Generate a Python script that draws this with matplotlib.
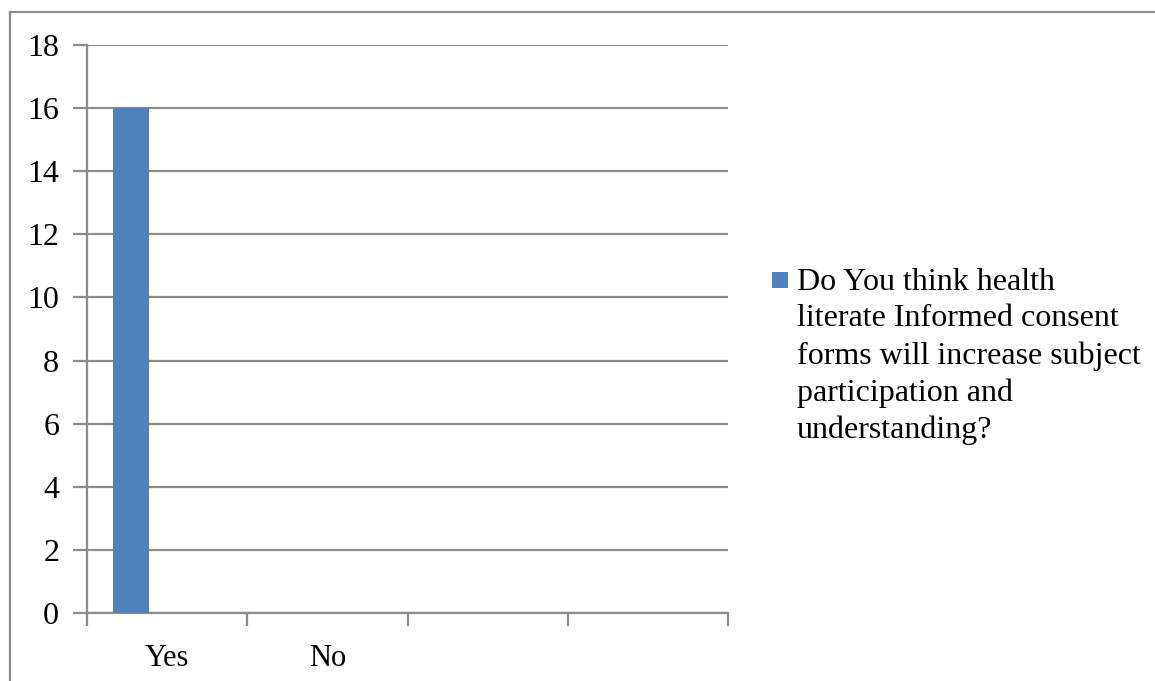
import matplotlib
matplotlib.use("Agg")
import matplotlib.pyplot as plt
from matplotlib.lines import Line2D
from matplotlib.patches import Rectangle
import numpy as np

# chart data
categories = ["Yes", "No", "", ""]
values = [16, 0, 0, 0]
yticks = [0, 2, 4, 6, 8, 10, 12, 14, 16, 18]
legend_label = ("Do You think health\nliterate Informed consent\n"
                "forms will increase subject\nparticipation and\nunderstanding?")

plt.rcParams['font.family'] = ['Liberation Serif', 'DejaVu Serif']

W, H = 1155, 681
bar_color = "#4F81BD"
grid_col = "#8c8c8c"

fig = plt.figure(figsize=(W / 100, H / 100), dpi=100)
ax = fig.add_axes([87 / W, (H - 613) / H, (728 - 87) / W, (613 - 45) / H])

x = np.arange(len(categories))
ax.bar(x - 0.225, values, width=0.225, color=bar_color, zorder=3)

ax.set_ylim(0, 18)
ax.set_yticks(yticks)
ax.set_yticklabels([str(v) for v in yticks], fontsize=23)
ax.yaxis.grid(True, color=grid_col, linewidth=1.6, zorder=0)
ax.tick_params(axis="y", length=10, width=1.6, color=grid_col, pad=10)

ax.set_xlim(-0.5, len(categories) - 0.5)
ax.set_xticks(x)
ax.set_xticklabels(categories, fontsize=22)
ax.set_xticks(np.arange(len(categories) + 1) - 0.5, minor=True)
ax.tick_params(axis="x", which="major", length=0, pad=22)
ax.tick_params(axis="x", which="minor", length=9, width=1.6, color=grid_col)

for side in ["top", "right"]:
    ax.spines[side].set_visible(False)
for side in ["left", "bottom"]:
    ax.spines[side].set_color(grid_col)
    ax.spines[side].set_linewidth(1.6)

# legend drawn by hand: key aligned with the first wrapped line
fig.add_artist(Rectangle((772 / W, 1 - 288 / H), 16 / W, 16 / H,
                         facecolor=bar_color, edgecolor="none",
                         transform=fig.transFigure))
fig.text(797 / W, 1 - 268 / H, legend_label, fontsize=23, va="top", ha="left",
         linespacing=1.34)

# outer chart border (only top and left edges are visible)
fig.add_artist(Line2D([10 / W, 1], [1 - 12 / H, 1 - 12 / H], color=grid_col, linewidth=1.6))
fig.add_artist(Line2D([10 / W, 10 / W], [0, 1 - 12 / H], color=grid_col, linewidth=1.6))

fig.savefig("out.png", dpi=100)
